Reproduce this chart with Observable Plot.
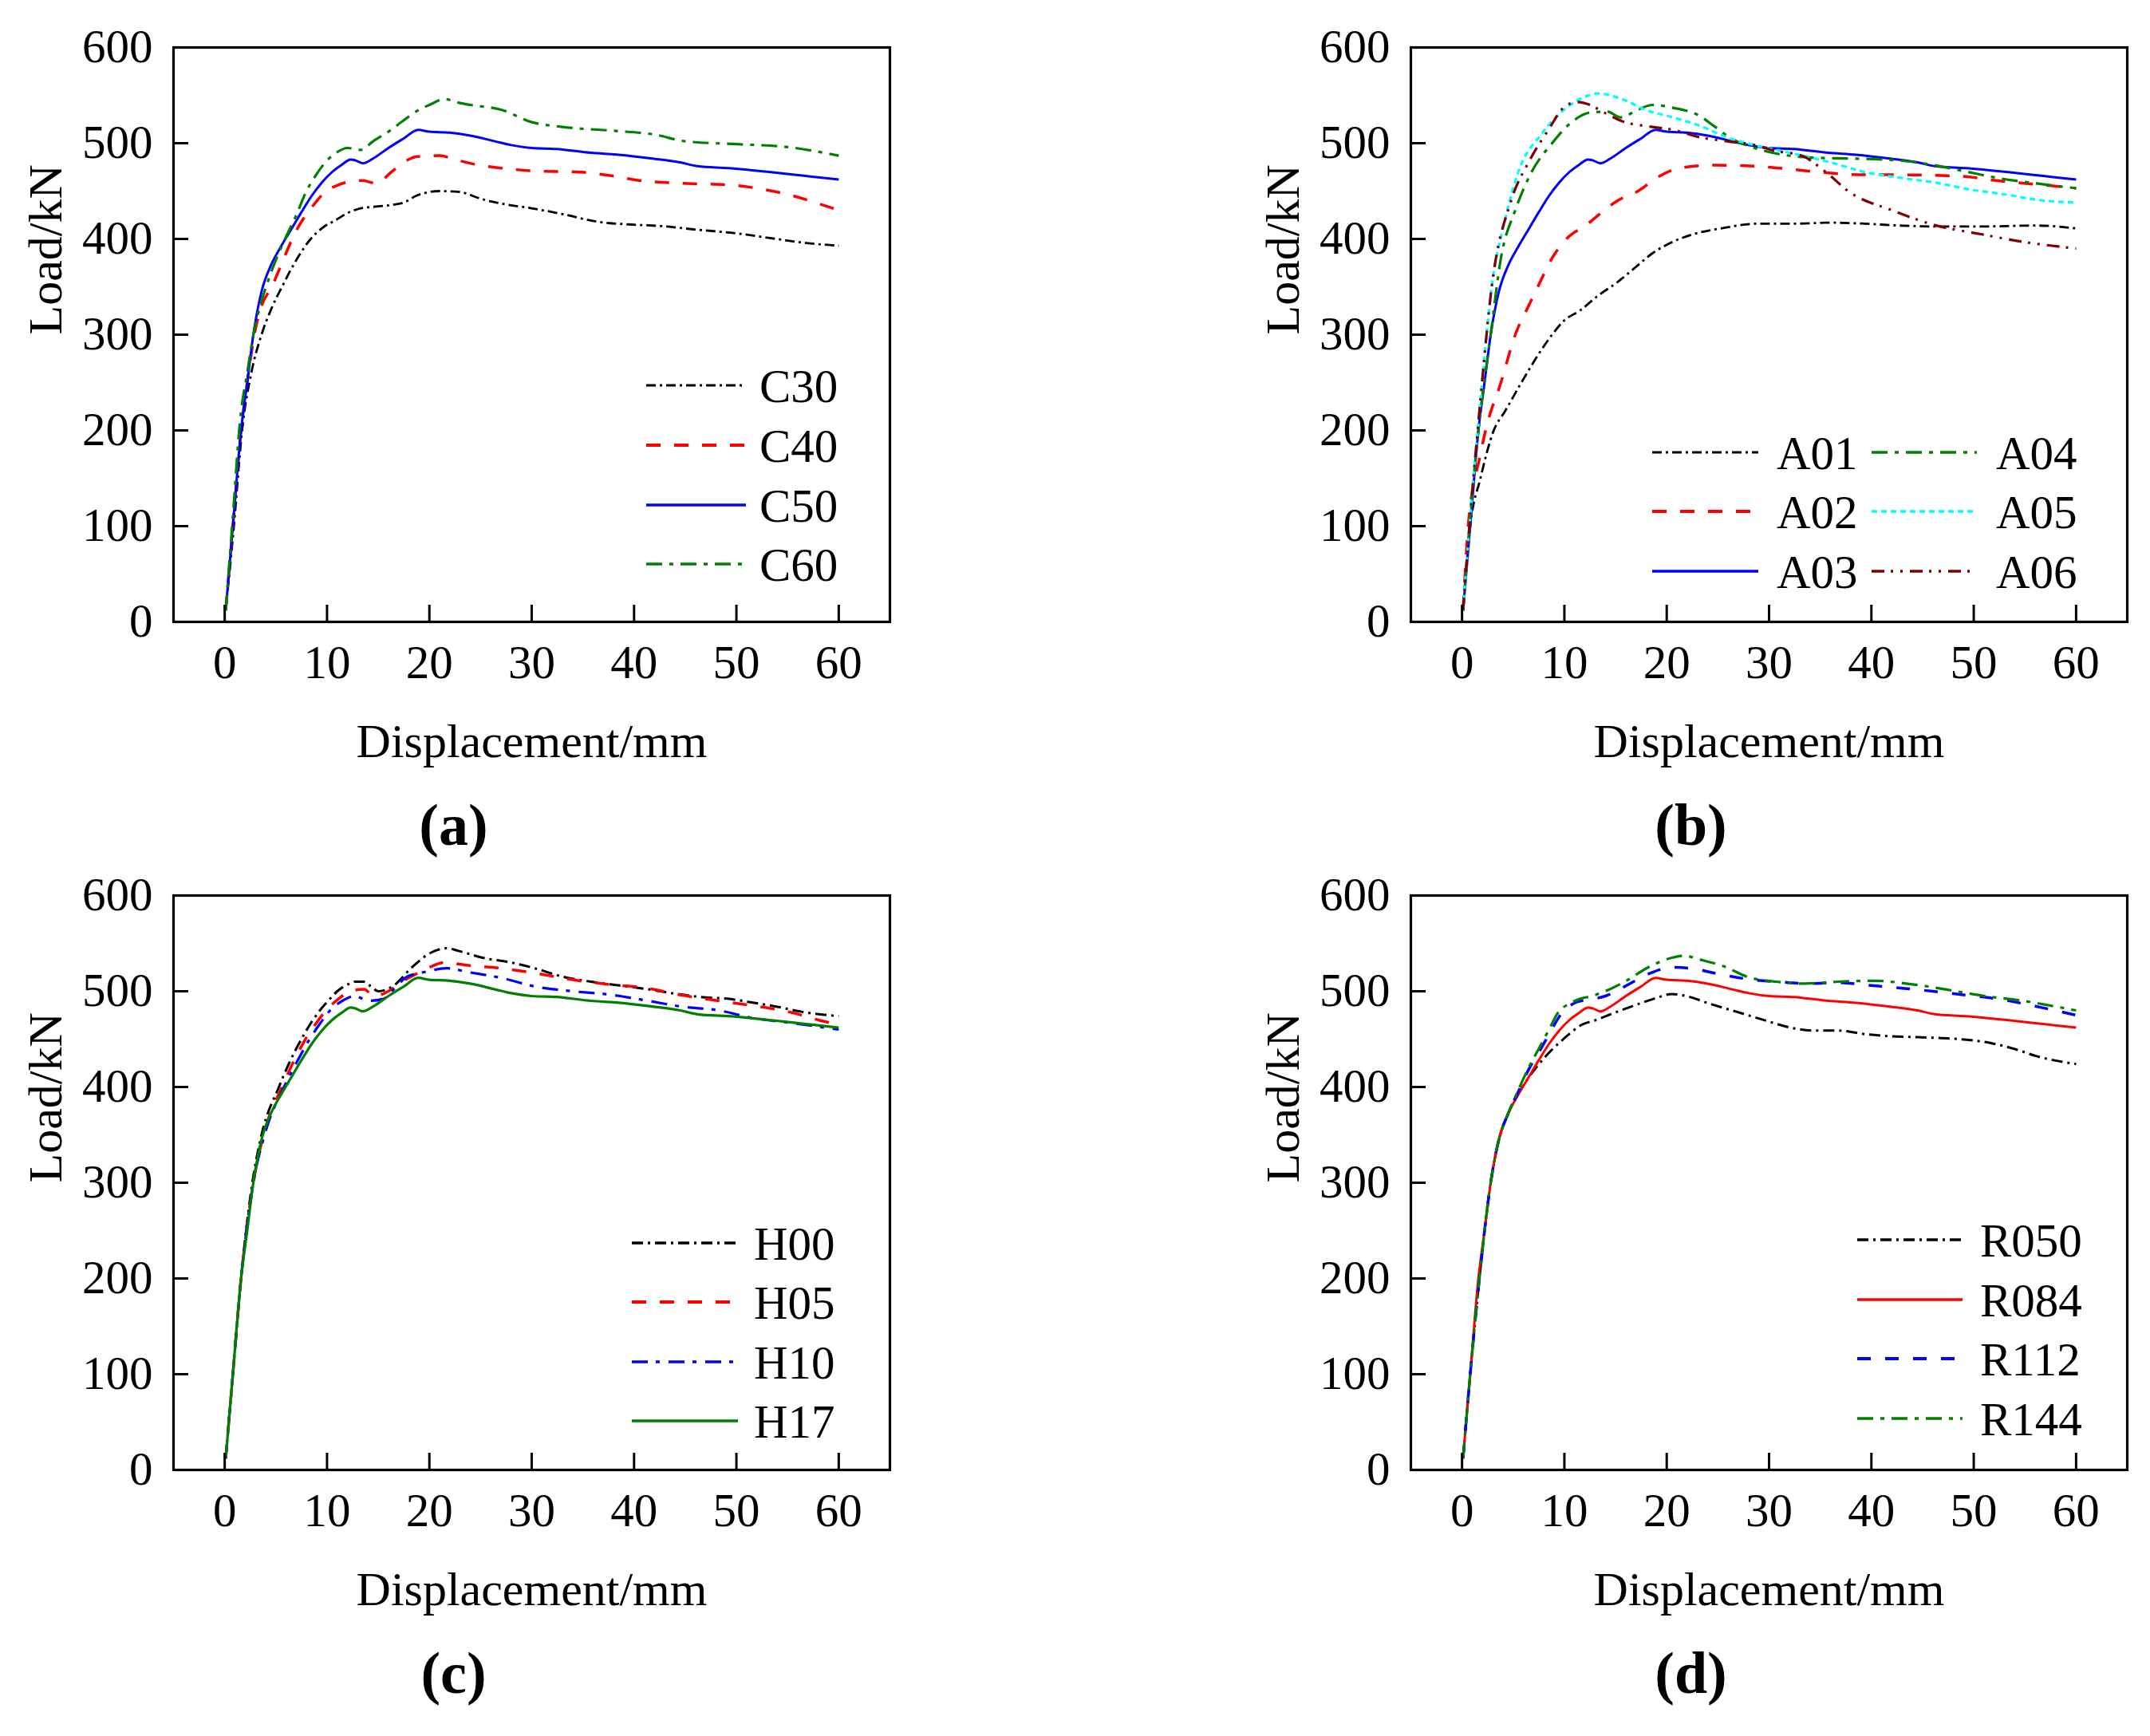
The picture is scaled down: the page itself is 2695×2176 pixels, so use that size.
<!DOCTYPE html>
<html><head><meta charset="utf-8">
<script src="https://cdn.jsdelivr.net/npm/d3@7"></script>
<script src="https://cdn.jsdelivr.net/npm/@observablehq/plot@0.6"></script>
<style>
html,body{margin:0;padding:0;background:#fff;}
#fig{position:relative;width:2695px;height:2176px;background:#fff;overflow:hidden;font-family:"Liberation Serif","Times New Roman",serif;}
#fig > svg{position:absolute;}
</style></head><body><div id="fig"></div>
<script>
// ---------- tick values ----------
const xTicks = [0, 10, 20, 30, 40, 50, 60];
const yTicks = [0, 100, 200, 300, 400, 500, 600];

// ---------- series data: [displacement mm, load kN] ----------
// reference specimen (C50 = A03 = H17 = R084)
const BASE = [[0.1,12],[0.8,100],[1.6,200],[2.2,250],[2.8,300],[3.6,345],[4.5,372],[5.5,392],[6.5,410],[7.5,428],[8.5,445],[9.5,459],[10.5,470],[11.5,478],[12.3,483],[12.8,482],[13.5,479],[14.5,484],[16,495],[17.5,505],[18.9,514],[20,512],[22,511],[24,508],[26.4,502],[28,498],[30,495],[32.4,494],[35.8,490],[38.5,488],[41.8,484],[44.5,480],[46.2,476],[49.2,474],[53.2,470],[56.6,466],[60,462]];

const C30 = [[0.1,12],[0.9,100],[1.7,200],[2.6,260],[3.6,300],[4.6,328],[5.6,350],[7,378],[8.4,400],[9.6,412],[10.9,420],[12,427],[13.3,432],[15,434],[16.6,436],[17.5,438],[18.7,445],[20,449],[21,450],[23,449],[25,442],[27,437],[30,432],[33,426],[36.4,418],[39.8,415],[43.2,413],[45.8,410],[49.9,406],[53.9,400],[56.6,396],[60,393]];
const C40 = [[0.1,12],[0.8,100],[1.6,200],[2.2,250],[2.9,300],[3.6,330],[4.6,350],[5.6,375],[6.6,400],[7.5,418],[8.3,430],[9.1,441],[9.9,450],[11,456],[12.3,460],[13.5,461],[14.8,458],[16.3,470],[17.5,480],[18.8,486],[21,487],[22.5,483],[24.4,478],[27,474],[30.4,471],[34.4,470],[37.8,466],[40.5,461],[45.2,458],[49.9,456],[52.5,452],[55.2,446],[58,437],[60,430]];
const C50 = BASE;
const C60 = [[0.1,12],[0.8,110],[1.5,210],[2.2,260],[2.9,305],[3.6,335],[4.2,355],[5,378],[5.9,400],[7,425],[7.9,448],[9,468],[10,482],[10.9,490],[12,495],[13.3,493],[14.5,502],[16,512],[17.5,524],[19,535],[20,540],[21.5,546],[23,542],[24,540],[27,535],[30,522],[33,517],[38,513],[42,509],[45,502],[50,499],[55,496],[60,487]];

const A01 = [[0.1,12],[0.8,100],[1.8,150],[3.1,200],[4.2,220],[5.8,250],[7.5,280],[8.8,300],[10,315],[11.5,325],[13.2,340],[15.2,355],[16.9,370],[18.6,385],[20.6,397],[22.6,405],[25.3,411],[29,416],[32.6,416],[36,417],[39.3,416],[42.7,414],[46.7,413],[50.7,413],[56.1,414],[60,411]];
const A02 = [[0.1,12],[0.6,100],[1.8,175],[2.3,200],[3.8,250],[5.2,300],[6.5,330],[7.4,350],[8.8,380],[10.2,400],[12.2,415],[13.9,430],[15.2,440],[17.2,450],[19.2,465],[21.2,474],[24.6,477],[28.6,476],[32,473],[34.6,470],[39.3,467],[42.7,467],[47.4,466],[49.4,465],[51.4,462],[56.1,457],[60,453]];
const A03 = BASE;
const A04 = [[0.1,12],[0.8,110],[1.7,210],[2.8,300],[3.8,380],[5.2,430],[6.8,470],[8.8,500],[10.5,520],[12.5,532],[14.2,533],[15.5,527],[17.2,535],[18.6,540],[20.6,537],[23.3,528],[24.6,518],[26.3,505],[28.6,495],[31.3,488],[34,485],[38,484],[42.7,482],[46.7,476],[49.4,470],[52.7,463],[56.1,458],[60,453]];
const A05 = [[0.1,12],[0.8,110],[1.7,220],[2.9,350],[4.2,420],[5.5,470],[7.8,510],[10.2,537],[11.9,548],[13.2,552],[15.9,545],[17.9,535],[20.6,527],[23.3,518],[25.9,506],[28.6,498],[32,490],[36,480],[39.3,470],[42.7,464],[46.7,458],[49.4,452],[53.4,446],[56.1,441],[60,438]];
const A06 = [[0.1,12],[0.8,110],[1.7,220],[2.9,350],[4.8,440],[6.5,480],[8.5,515],[9.9,537],[11.2,543],[12.5,540],[13.9,532],[15.9,522],[17.9,518],[20.6,514],[23.3,506],[25.9,502],[28.6,498],[30.6,492],[33.2,487],[35.3,472],[38,448],[42,430],[46,415],[50.7,405],[54.8,397],[60,390]];

const H00 = [[0.1,12],[0.8,100],[1.6,200],[2.7,300],[3.6,350],[5.3,400],[6.3,425],[7.5,450],[8.5,468],[9.3,480],[10.2,491],[11,500],[12,507],[12.7,510],[13.6,510],[14.3,505],[15,500],[16.4,505],[18.3,525],[20.1,540],[21.7,545],[22.9,542],[25.2,535],[28,530],[30.3,524],[33.1,515],[35.8,510],[38.6,506],[41.4,502],[43.7,498],[46.5,494],[49.3,492],[51.1,489],[53.9,484],[56.7,478],[60,474]];
const H05 = [[0.1,12],[0.8,100],[1.6,200],[2.8,300],[3.8,350],[5.6,400],[6.8,428],[7.9,450],[8.9,466],[9.9,480],[11,491],[12.3,500],[13.6,502],[14.6,495],[16,500],[17.3,510],[18.7,518],[20,525],[21.5,530],[23.8,527],[27,524],[30.3,519],[34,512],[37.7,507],[41.4,503],[44.6,496],[48.3,490],[51.6,485],[55.3,478],[58,470],[60,465]];
const H10 = [[0.1,12],[0.8,100],[1.6,200],[2.8,300],[3.9,350],[5.8,400],[7,425],[8.3,450],[9.3,466],[10.3,480],[11.5,490],[12.7,495],[14.1,490],[15.5,492],[16.6,503],[17.8,515],[19.5,520],[21.7,524],[23.8,520],[27,514],[30.3,505],[34,500],[37.2,497],[41.4,490],[44.6,484],[48.3,480],[51.6,472],[55.3,467],[60,460]];
const H17 = BASE;

const R050 = [[0.1,12],[0.8,100],[1.7,200],[2.8,300],[3.6,345],[4.5,372],[5.9,400],[8,430],[9.9,450],[11.7,465],[13.1,470],[15,478],[16.8,485],[18.7,492],[20.5,497],[21.9,495],[24.2,487],[27,478],[29.8,469],[32.1,462],[34.4,459],[36.7,459],[39.5,455],[41.9,453],[44.6,452],[46.9,451],[49.7,449],[51.6,446],[53.9,440],[56.2,432],[60,424]];
const R084 = BASE;
const R112 = [[0.1,12],[0.8,100],[1.7,200],[2.8,300],[3.6,345],[4.5,372],[5.5,395],[6.5,418],[7.5,436],[8.5,455],[9.6,475],[11.3,489],[12.9,492],[14,495],[15.9,505],[18.2,518],[20.5,525],[22.3,524],[25.1,518],[28.4,512],[30.7,510],[33.9,508],[36.7,509],[40,506],[43.2,503],[46,500],[49.2,496],[52.9,491],[56.2,484],[60,475]];
const R144 = [[0.1,12],[0.8,100],[1.7,200],[2.8,300],[3.6,345],[4.5,372],[5.5,397],[6.5,420],[7.5,440],[8.5,460],[9.4,478],[10.5,487],[11.5,492],[12.7,495],[14,500],[15.9,510],[18.2,525],[20.5,535],[21.7,537],[23.3,533],[25.6,526],[27.9,515],[30.7,510],[33.4,508],[36.7,510],[40.4,511],[42.7,509],[45.5,505],[48.3,500],[51.1,495],[54.8,490],[57.5,485],[60,480]];

// ---------- styles ----------
const ST = {
  dashdot:   {stroke:"#000000", width:2.8, dash:"12,5,3,5"},
  dashed:    {stroke:"#ff0000", width:3.5, dash:"18,17"},
  solidBlue: {stroke:"#0000ff", width:3,   dash:null},
  greenDD:   {stroke:"#008000", width:3.2, dash:"20,9,5,9"},
  cyanDot:   {stroke:"#00ffff", width:3.2, dash:"7,5"},
  maroonDDD: {stroke:"#800000", width:3.2, dash:"16,8,3,9,3,9"},
  blueDD:    {stroke:"#0000ff", width:3.2, dash:"20,10,5,11"},
  greenSolid:{stroke:"#008000", width:3.2, dash:null},
  redSolid:  {stroke:"#ff0000", width:3,   dash:null},
  blueDashed:{stroke:"#0000ff", width:3.5, dash:"17,18"},
  blackDDot: {stroke:"#000000", width:3,   dash:"14,6,3,6"}
};

const panels = [
  {tag:"(a)", left:0, top:0, width:1348, frameL:217, frameR:1115,
   series:[["C30",C30,ST.dashdot],["C40",C40,ST.dashed],["C50",C50,ST.solidBlue],["C60",C60,ST.greenDD]],
   legend:{cols:[{x1:810,x2:935,tx:952}], rows:[483,558,633,707]}},
  {tag:"(b)", left:1348, top:0, width:1347, frameL:1768, frameR:2666,
   series:[["A01",A01,ST.dashdot],["A02",A02,ST.dashed],["A03",A03,ST.solidBlue],["A04",A04,ST.greenDD],["A05",A05,ST.cyanDot],["A06",A06,ST.maroonDDD]],
   legend:{cols:[{x1:2071,x2:2204,tx:2227},{x1:2346,x2:2478,tx:2502}], rows:[567,641,716]}},
  {tag:"(c)", left:0, top:1063, width:1348, frameL:217, frameR:1115,
   series:[["H00",H00,ST.blackDDot],["H05",H05,ST.dashed],["H10",H10,ST.blueDD],["H17",H17,ST.greenSolid]],
   legend:{cols:[{x1:792,x2:925,tx:945}], rows:[1558,1632,1707,1781]}},
  {tag:"(d)", left:1348, top:1063, width:1347, frameL:1768, frameR:2666,
   series:[["R050",R050,ST.blackDDot],["R084",R084,ST.redSolid],["R112",R112,ST.blueDashed],["R144",R144,ST.greenDD]],
   legend:{cols:[{x1:2328,x2:2460,tx:2482}], rows:[1554,1629,1703,1778]}}
];

const fig = document.getElementById("fig");
const FONT = "Liberation Serif, Times New Roman, serif";
const MT = 59, IH = 720, H = 1095;

for (const p of panels) {
  const ml = p.frameL - p.left, mr = p.left + p.width - p.frameR;
  const iw = p.frameR - p.frameL;
  const lineMarks = p.series.map(([name, data, s]) =>
    Plot.line(data, {x: d => d[0], y: d => d[1], stroke: s.stroke, strokeWidth: s.width,
      strokeDasharray: s.dash ?? undefined, strokeLinecap: "butt", strokeLinejoin: "round", curve: "monotone-x"}));
  const svg = Plot.plot({
    width: p.width, height: H,
    marginLeft: ml, marginRight: mr, marginTop: MT, marginBottom: H - MT - IH,
    style: {fontFamily: FONT, fontSize: "59px", background: "transparent", color: "#000"},
    x: {domain: [-5, 65]},
    y: {domain: [0, 600]},
    marks: [
      ...lineMarks,
      Plot.tickX(xTicks, {x: d => d, insetTop: IH - 21, stroke: "#000", strokeWidth: 3}),
      Plot.tickY(yTicks, {y: d => d, insetRight: iw - 19, stroke: "#000", strokeWidth: 3}),
      Plot.frame({stroke: "#000", strokeWidth: 3.2}),
      Plot.axisX({ticks: xTicks, tickSize: 0, tickPadding: 29, label: null, fontSize: 59, tickFormat: d => String(d)}),
      Plot.axisY({ticks: yTicks, tickSize: 0, tickPadding: 26, label: null, fontSize: 59, tickFormat: d => String(d)}),
      Plot.text(["Displacement/mm"], {text: d => d, frameAnchor: "bottom", lineAnchor: "bottom", dy: 169, fontSize: 60}),
      Plot.text(["Load/kN"], {text: d => d, frameAnchor: "left", lineAnchor: "bottom", rotate: -90, dx: -141, fontSize: 60}),
      Plot.text([p.tag], {text: d => d, frameAnchor: "bottom", lineAnchor: "bottom", dx: 351 - iw / 2, dy: 279, fontSize: 74, fontWeight: "bold"})
    ]
  });
  svg.style.left = p.left + "px";
  svg.style.top = p.top + "px";
  fig.appendChild(svg);
}

// ---------- legends (overlay) ----------
const ov = d3.select(fig).append("svg")
  .attr("width", 2695).attr("height", 2176)
  .style("left", "0px").style("top", "0px")
  .attr("font-family", FONT).attr("font-size", 59);
for (const p of panels) {
  const nRows = p.legend.rows.length;
  p.series.forEach(([name, data, s], i) => {
    const col = p.legend.cols[Math.floor(i / nRows)];
    const y = p.legend.rows[i % nRows];
    ov.append("line").attr("x1", col.x1).attr("x2", col.x2).attr("y1", y).attr("y2", y)
      .attr("stroke", s.stroke).attr("stroke-width", s.width + 0.3)
      .attr("stroke-dasharray", s.dash).attr("stroke-linecap", "butt");
    ov.append("text").attr("x", col.tx).attr("y", y + 21).attr("fill", "#000").text(name);
  });
}
</script></body></html>
